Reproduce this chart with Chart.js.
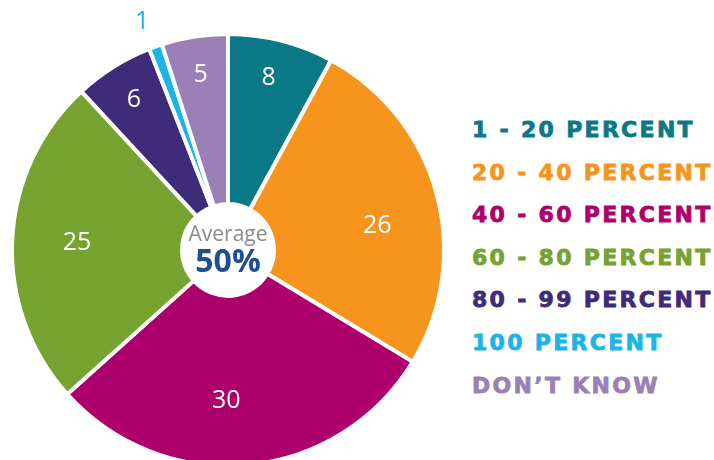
<!DOCTYPE html>
<html>
<head>
<meta charset="utf-8">
<script src="https://cdn.jsdelivr.net/npm/chart.js@4.4.1/dist/chart.umd.min.js"></script>
<style>
  html, body { margin: 0; padding: 0; background: #fff; width: 714px; height: 460px; overflow: hidden; }
  #wrap { position: absolute; left: 0; top: 0; width: 456px; height: 500px; }
  #legend { position: absolute; left: 472px; top: 116px; margin: 0; padding: 0; list-style: none;
    font-family: "DejaVu Sans", sans-serif; font-weight: bold; font-size: 22px; letter-spacing: 2.3px; }
  #legend li { height: 42.6px; line-height: 28px; white-space: nowrap; -webkit-text-stroke: 0.8px currentColor; }
</style>
</head>
<body>
<div id="wrap"><canvas id="pie"></canvas></div>
<ul id="legend"></ul>
<script>
const categories = ['1 - 20 PERCENT', '20 - 40 PERCENT', '40 - 60 PERCENT', '60 - 80 PERCENT', '80 - 99 PERCENT', '100 PERCENT', 'DON\u2019T KNOW'];
const counts = [8, 26, 30, 25, 6, 1, 5];
const colors = ['#0a7886', '#f7941d', '#ad006c', '#76a22f', '#3e2b7a', '#1ab4e8', '#9a80b7'];
const centerTitle = 'Average';
const centerValue = '50%';

// legend as plain text lines
const legendEl = document.getElementById('legend');
categories.forEach((c, i) => {
  const li = document.createElement('li');
  li.textContent = c;
  li.style.color = colors[i];
  legendEl.appendChild(li);
});

// numbers on slices and text in the hole
const sliceLabels = {
  id: 'sliceLabels',
  afterDatasetsDraw(chart, args, opts) {
    const ctx = chart.ctx;
    const meta = chart.getDatasetMeta(0);
    ctx.save();
    ctx.textAlign = 'center';
    ctx.textBaseline = 'middle';
    meta.data.forEach((arc, i) => {
      const v = counts[i];
      const p = arc.getProps(['x', 'y', 'startAngle', 'endAngle', 'outerRadius']);
      const mid = (p.startAngle + p.endAngle) / 2 + (opts.nudge[i] || 0) * Math.PI / 180;
      let r = p.outerRadius * 0.82;
      let col = '#fff';
      if (v < 3) { r = p.outerRadius * 1.13; col = colors[i]; }
      else if (v >= 20) { r = p.outerRadius * 0.70; }
      ctx.fillStyle = col;
      ctx.font = '25px "Open Sans", sans-serif';
      ctx.fillText(String(v), p.x + Math.cos(mid) * r, p.y + Math.sin(mid) * r);
    });
    const c = meta.data[0];
    ctx.fillStyle = '#8a8a8a';
    ctx.font = '21px "Open Sans", sans-serif';
    ctx.fillText(centerTitle, c.x, c.y - 15);
    ctx.fillStyle = '#1d4f91';
    ctx.font = 'bold 32px "Open Sans", sans-serif';
    ctx.fillText(centerValue, c.x, c.y + 13);
    ctx.restore();
  }
};

new Chart(document.getElementById('pie'), {
  type: 'doughnut',
  data: {
    labels: categories,
    datasets: [{
      data: counts,
      backgroundColor: colors,
      borderColor: '#fff',
      borderWidth: 4
    }]
  },
  options: {
    responsive: true,
    maintainAspectRatio: false,
    animation: false,
    radius: 216,
    cutout: 48,
    layout: { padding: 0 },
    plugins: {
      legend: { display: false },
      tooltip: { enabled: false },
      sliceLabels: { nudge: [-1, 6, 6, 0, 0, -1, 0] }
    }
  },
  plugins: [sliceLabels]
});
</script>
</body>
</html>
